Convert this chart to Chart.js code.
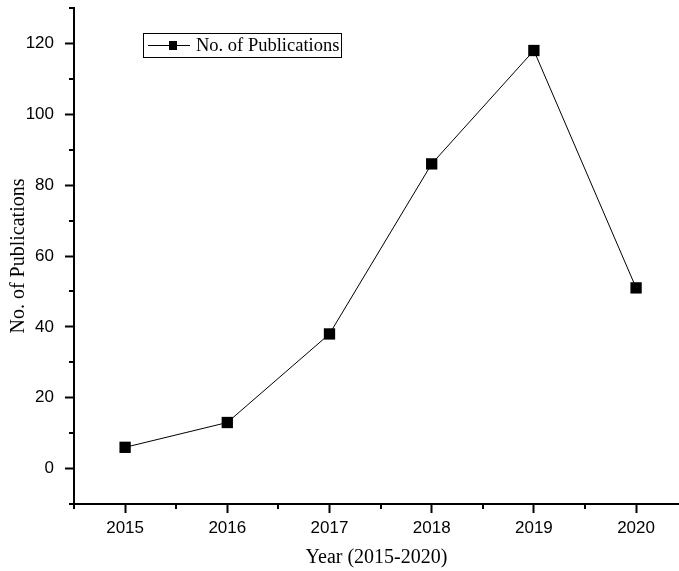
<!DOCTYPE html>
<html>
<head>
<meta charset="utf-8">
<script src="https://cdn.jsdelivr.net/npm/chart.js@4/dist/chart.umd.min.js"></script>
<style>
  html, body { margin: 0; padding: 0; overflow: hidden; background: #fff; }
</style>
</head>
<body>
<canvas id="chartPublicaciones" width="679" height="571"></canvas>
<script>
const years = [2015, 2016, 2017, 2018, 2019, 2020];
const publications = [6, 13, 38, 86, 118, 51];

const yMajorTicks = [0, 20, 40, 60, 80, 100, 120];
const yMinorTicks = [-10, 10, 30, 50, 70, 90, 110, 130];
const xMinorTicks = [2014.5, 2015.5, 2016.5, 2017.5, 2018.5, 2019.5];

const serif = "'Liberation Serif', 'Times New Roman', serif";
const sans = "'Liberation Sans', Arial, sans-serif";

// short ticks on the half steps, drawn through the scales
const minorTicks = {
  id: 'minorTicks',
  afterDraw(chart) {
    const ctx = chart.ctx;
    const x = chart.scales.x, y = chart.scales.y;
    const area = chart.chartArea;
    ctx.save();
    ctx.strokeStyle = '#000';
    ctx.lineWidth = 2;
    ctx.beginPath();
    xMinorTicks.forEach(v => {
      const px = Math.round(x.getPixelForValue(v));
      ctx.moveTo(px, area.bottom);
      ctx.lineTo(px, area.bottom + 5);
    });
    yMinorTicks.forEach(v => {
      const py = Math.round(y.getPixelForValue(v));
      ctx.moveTo(area.left, py);
      ctx.lineTo(area.left - 5, py);
    });
    ctx.stroke();
    ctx.restore();
  }
};

// boxed legend like the Origin one
const boxLegend = {
  id: 'boxLegend',
  afterDraw(chart) {
    const ctx = chart.ctx;
    const ds = chart.data.datasets[0];
    const bx = 143, by = 33, bw = 198, bh = 24;
    const cy = by + bh / 2;
    ctx.save();
    ctx.strokeStyle = '#000';
    ctx.lineWidth = 1;
    ctx.strokeRect(bx + 0.5, by + 0.5, bw, bh);
    ctx.beginPath();
    ctx.moveTo(bx + 5, cy + 0.5);
    ctx.lineTo(bx + 47, cy + 0.5);
    ctx.stroke();
    ctx.fillStyle = '#000';
    ctx.fillRect(bx + 26, cy - 4, 8, 9);
    ctx.font = '18.5px ' + serif;
    ctx.textBaseline = 'middle';
    ctx.fillText(ds.label, bx + 53, cy + 1);
    ctx.restore();
  }
};

const ctxPub = document.getElementById('chartPublicaciones');

new Chart(ctxPub, {
  type: 'line',
  data: {
    datasets: [{
      label: 'No. of Publications',
      data: years.map((yr, i) => ({ x: yr, y: publications[i] })),
      borderColor: '#000',
      backgroundColor: '#000',
      borderWidth: 1,
      tension: 0,
      pointStyle: 'rect',
      pointRadius: 8,
      pointHoverRadius: 8,
      pointBorderWidth: 0
    }]
  },
  options: {
    responsive: false,
    animation: false,
    devicePixelRatio: 1,
    layout: { autoPadding: false, padding: { top: 8, right: 0, bottom: 0, left: 0 } },
    scales: {
      x: {
        type: 'linear',
        min: 2014.5,
        max: 2020.42,
        afterBuildTicks: scale => { scale.ticks = years.map(v => ({ value: v })); },
        afterFit: scale => {
          scale.height = 67;
          scale.paddingLeft = 0;
          scale.paddingRight = 0;
        },
        grid: { drawOnChartArea: false, tickLength: 9, tickWidth: 2, tickColor: '#000' },
        border: { color: '#000', width: 2 },
        ticks: {
          autoSkip: false,
          maxRotation: 0,
          padding: 5,
          color: '#000',
          font: { family: sans, size: 17 },
          callback: v => String(v)
        },
        title: {
          display: true,
          text: 'Year (2015-2020)',
          color: '#000',
          font: { family: serif, size: 20 },
          padding: { top: 0, bottom: 1 }
        }
      },
      y: {
        min: -10,
        max: 130,
        afterBuildTicks: scale => { scale.ticks = yMajorTicks.map(v => ({ value: v })); },
        afterFit: scale => {
          scale.width = 74;
          scale.paddingTop = 0;
          scale.paddingBottom = 0;
        },
        grid: { drawOnChartArea: false, tickLength: 9, tickWidth: 2, tickColor: '#000' },
        border: { color: '#000', width: 2 },
        ticks: {
          autoSkip: false,
          padding: 11,
          color: '#000',
          font: { family: sans, size: 17 },
          callback: v => String(v)
        },
        title: {
          display: true,
          text: 'No. of Publications',
          color: '#000',
          font: { family: serif, size: 20 },
          padding: { top: 7, bottom: 0 }
        }
      }
    },
    plugins: {
      legend: { display: false },
      tooltip: { enabled: false }
    }
  },
  plugins: [minorTicks, boxLegend]
});
</script>
</body>
</html>
